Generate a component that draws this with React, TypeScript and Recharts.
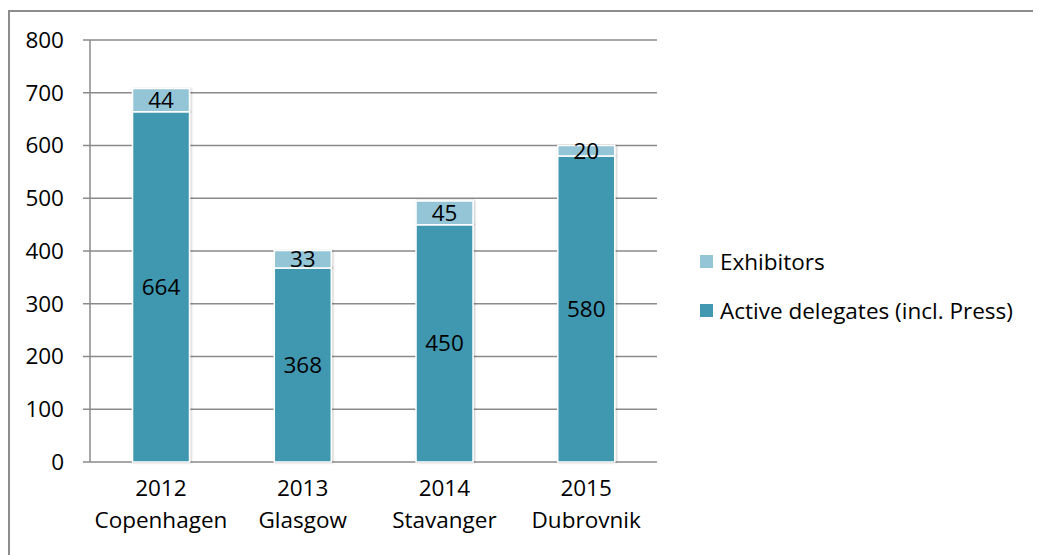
import { Bar, BarChart, CartesianGrid, LabelList, Legend, XAxis, YAxis } from "recharts";

const DARK = "#4198b0";
const LIGHT = "#93c5d6";
const AXIS = "#8a8a8a";
const FONT = "'Open Sans', sans-serif";
const FS = 22.5;

const years = ["2012", "2013", "2014", "2015"];
const cities = ["Copenhagen", "Glasgow", "Stavanger", "Dubrovnik"];
const delegates = [664, 368, 450, 580];
const exhibitors = [44, 33, 45, 20];
const yTicks = [0, 100, 200, 300, 400, 500, 600, 700, 800];
const boundaryTicks = [0, 1, 2, 3, 4];

const data = years.map((year, i) => ({
  year,
  city: cities[i],
  delegates: delegates[i],
  exhibitors: exhibitors[i],
}));

function CategoryTick(props: any) {
  const { x, y, payload } = props;
  const row = data[payload.index] ?? data.find((d) => d.year === payload.value);
  return (
    <g transform={`translate(${x},${y})`}>
      <text textAnchor="middle" fontSize={FS} fontFamily={FONT} fill="#000">
        <tspan x={0} dy={26}>{payload.value}</tspan>
        <tspan x={0} dy={32}>{row?.city}</tspan>
      </text>
    </g>
  );
}

function LegendBox() {
  const items = [
    { label: "Exhibitors", color: LIGHT },
    { label: "Active delegates (incl. Press)", color: DARK },
  ];
  return (
    <div style={{ fontFamily: FONT, fontSize: FS, color: "#000" }}>
      {items.map((it) => (
        <div key={it.label} style={{ display: "flex", alignItems: "center", height: 49 }}>
          <span style={{ width: 13, height: 13, background: it.color, marginRight: 7, display: "inline-block" }} />
          <span>{it.label}</span>
        </div>
      ))}
    </div>
  );
}

export default function App() {
  return (
    <div style={{ position: "relative", width: 1033, height: 547 }}>
      <div
        style={{
          position: "absolute",
          left: 0,
          top: 2,
          width: 1033,
          height: 545,
          borderTop: "2px solid #8c8c8c",
          borderLeft: "2px solid #8c8c8c",
          boxSizing: "border-box",
        }}
      />
      <div style={{ position: "absolute", left: 0, top: 0 }}>
        <BarChart
          width={1033}
          height={547}
          data={data}
          barCategoryGap="30%"
          margin={{ top: 32, right: 384, left: 0, bottom: 13 }}
        >
          <defs>
            <filter id="barShadow" x="-20%" y="-5%" width="140%" height="110%">
              <feDropShadow dx="1" dy="0" stdDeviation="1.2" floodColor="#000" floodOpacity="0.25" />
            </filter>
          </defs>
          <CartesianGrid vertical={false} stroke={AXIS} strokeWidth={1.5} />
          <XAxis
            xAxisId="edges"
            type="number"
            domain={[0, 4]}
            ticks={boundaryTicks}
            height={0}
            tick={false}
            tickSize={7}
            stroke={AXIS}
            strokeWidth={1.5}
            allowDataOverflow
          />
          <XAxis
            xAxisId="cat"
            dataKey="year"
            height={80}
            axisLine={false}
            tickLine={false}
            tick={<CategoryTick />}
            interval={0}
          />
          <YAxis
            domain={[0, 800]}
            ticks={yTicks}
            width={82}
            tickSize={7}
            tickMargin={19}
            stroke={AXIS}
            strokeWidth={1.5}
            tick={{ fontSize: FS, fontFamily: FONT, fill: "#000" }}
            interval={0}
          />
          <Legend
            layout="vertical"
            align="center"
            verticalAlign="middle"
            content={<LegendBox />}
            wrapperStyle={{ left: 692, top: 229, width: 340 }}
          />
          <Bar
            xAxisId="cat"
            dataKey="delegates"
            name="Active delegates (incl. Press)"
            stackId="a"
            fill={DARK}
            stroke="#fff"
            strokeWidth={1.5}
            filter="url(#barShadow)"
            isAnimationActive={false}
          >
            <LabelList dataKey="delegates" position="center" fill="#000" fontSize={FS} fontFamily={FONT} />
          </Bar>
          <Bar
            xAxisId="cat"
            dataKey="exhibitors"
            name="Exhibitors"
            stackId="a"
            fill={LIGHT}
            stroke="#fff"
            strokeWidth={1.5}
            filter="url(#barShadow)"
            isAnimationActive={false}
          >
            <LabelList dataKey="exhibitors" position="center" fill="#000" fontSize={FS} fontFamily={FONT} />
          </Bar>
        </BarChart>
      </div>
    </div>
  );
}
